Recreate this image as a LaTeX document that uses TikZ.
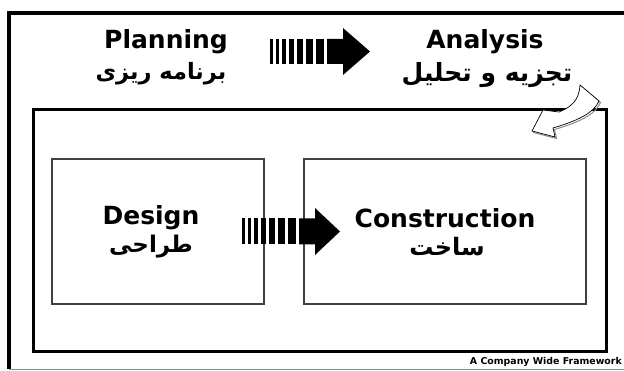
\documentclass[tikz,border=0pt]{standalone}
\usepackage{fontspec}
\setmainfont{DejaVu Sans}
\newfontfamily\fa[Script=Arabic]{DejaVu Sans}
\TeXXeTstate=1
\begin{document}
\begin{tikzpicture}[x=1pt,y=-1pt,
  en/.style={font=\fontsize{25}{27}\selectfont\bfseries, inner sep=0pt},
  pe/.style={font=\fa\fontsize{#1}{28}\selectfont\bfseries, inner sep=0pt},
  pe/.default=25,
  thickframe/.style={line width=3.5pt, black},
  thinbox/.style={line width=1.4pt, black!75},
]
\useasboundingbox (0,0) rectangle (624,371);
\fill[white] (0,0) rectangle (624,371);
% outer frame
\draw[thickframe] (9,369) -- (9,13) -- (624,13);
\draw[black!45, line width=0.8pt] (9,369.5) -- (624,369.5);
% inner frame
\draw[line width=3pt] (33.5,109.5) rectangle (606.5,352);
% boxes
\node[thinbox, draw, minimum width=212pt, minimum height=145pt, inner sep=0pt] (designbox) at (158,231.5) {};
\node[thinbox, draw, minimum width=282pt, minimum height=145pt, inner sep=0pt] (constbox) at (445,231.5) {};
% texts
\node[en] (plan) at (166,42) {Planning};
\node[pe=22.5] (planfa) at (161,74) {\beginR برنامه ریزی\endR};
\node[en] (anal) at (485,42) {Analysis};
\node[pe] (analfa) at (487,75) {\beginR تجزیه و تحلیل\endR};
\node[en] (des) at (151,218) {Design};
\node[pe=23] (desfa) at (151,247) {\beginR طراحی\endR};
\node[en] (con) at (445,218) {Construction};
\node[pe=24] (confa) at (447,247) {\beginR ساخت\endR};
\node[font=\fontsize{9.4}{10}\selectfont\bfseries, inner sep=0pt, anchor=east] (foot) at (622,362) {A Company Wide Framework};
% striped arrows
\newcommand{\stripedarrow}[6]{% x0, yc, half body, half head, head base, tip
  \begin{scope}[shift={(#1,#2)}]
    \foreach \a/\b in {0/3,6/9,12/16,19/24,27/33,36/43,46/54}
      \fill[black] (\a,-#3) rectangle (\b,#3);
    \fill[black] (57,-#3) -- (#5,-#3) -- (#5,-#4) -- (#6,0) -- (#5,#4) -- (#5,#3) -- (57,#3) -- cycle;
  \end{scope}}
\stripedarrow{270}{51.5}{12.5}{23.5}{73}{100}
\stripedarrow{242}{231.5}{13}{23.5}{73}{98}
% curved arrow
\begin{scope}[shift={(1.5,1.5)}]
\draw[black!45, line width=1pt] (580,85) .. controls (579,101) and (571,107) .. (559,112) -- (543,110) -- (532,131) -- (555,137) -- (553,128) .. controls (577,121) and (594,113) .. (599,101) -- cycle;
\end{scope}
\draw[black, fill=white, line width=0.7pt] (580,85) .. controls (579,101) and (571,107) .. (559,112) -- (543,110) -- (532,131) -- (555,137) -- (553,128) .. controls (577,121) and (594,113) .. (599,101) -- cycle;
\end{tikzpicture}
\end{document}
